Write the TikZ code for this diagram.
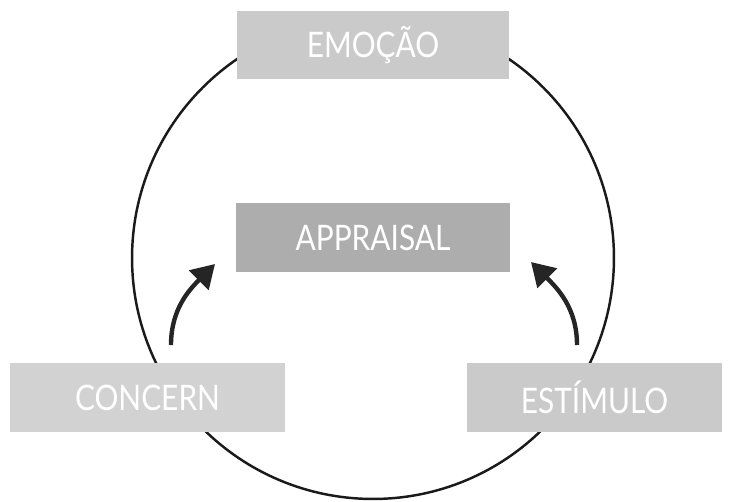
\documentclass[tikz,border=0pt]{standalone}
\usepackage{fontspec}
\setmainfont{Lato}[FakeStretch=0.85]
\usetikzlibrary{arrows.meta}
\definecolor{boxlight}{HTML}{CACACA}
\definecolor{boxdark}{HTML}{ADADAD}
\definecolor{ringcol}{HTML}{1A1A1A}
\tikzset{
  box/.style={rectangle, minimum height=1.38cm, text=white, font=\fontsize{20}{24}\selectfont},
  flow/.style={line width=2.5pt, draw=ringcol!95, -{Triangle[length=0.46cm, width=0.54cm]}}
}
\begin{document}
\begin{tikzpicture}[x=0.02cm, y=-0.02cm]
      \useasboundingbox (0,0) rectangle (730,501);
      \node[circle, draw=ringcol, line width=1.4pt, minimum size=9.64cm] (ring) at (373,258) {};
      \node[box, minimum width=5.46cm] (emocao) at (373,45) [fill=boxlight] {EMOÇÃO};
      \node[box, minimum width=5.48cm] (appraisal) at (373,237.5) [fill=boxdark] {APPRAISAL};
      \node[box, minimum width=5.5cm] (concern) at (147.5,397.5) [fill=boxlight!85!white] {CONCERN};
      \node[box, minimum width=5.1cm] (estimulo) at (594.5,397.5) [fill=boxlight] {ESTÍMULO};
      \coordinate (c1) at (171,345);
      \coordinate (t1) at (215,264);
      \coordinate (c2) at (577,345);
      \coordinate (t2) at (531,262);
      \foreach \source/\dest/\inang in {c1/t1/225, c2/t2/-45}
        \draw[flow] (\source) to[out=90, in=\inang] (\dest);
    \end{tikzpicture}
\end{document}
